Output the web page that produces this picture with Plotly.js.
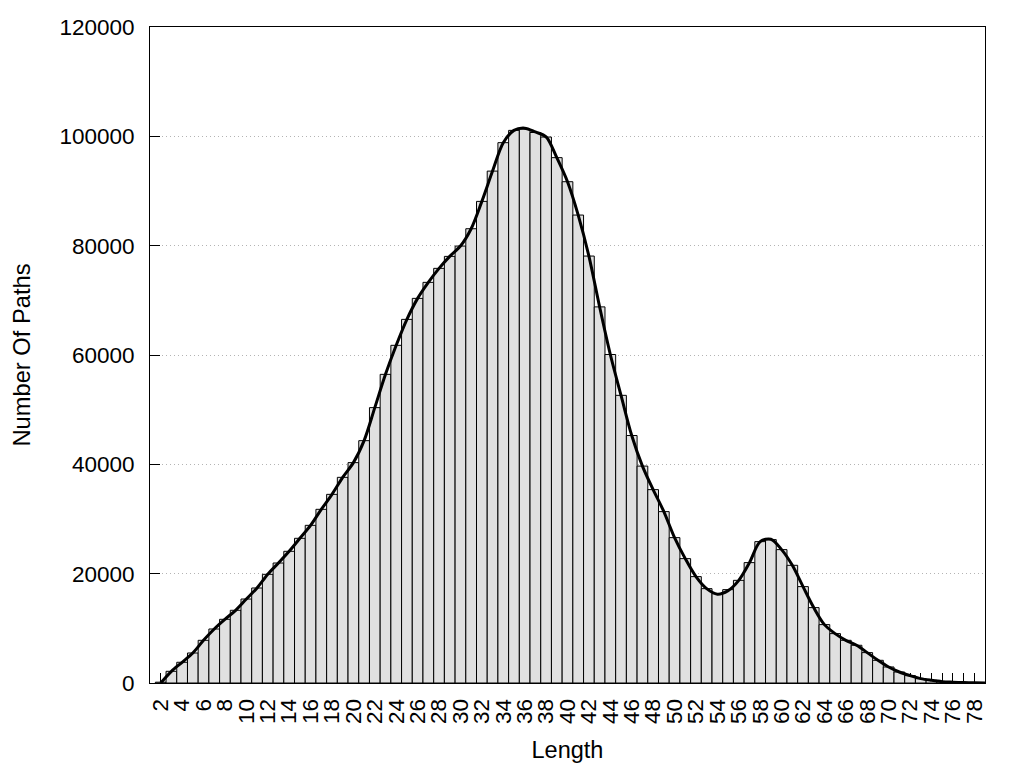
<!DOCTYPE html>
<html>
<head>
<meta charset="utf-8">
<script src="https://cdn.plot.ly/plotly-3.0.1.min.js"></script>
<style>
  html, body { margin: 0; padding: 0; background: #ffffff; }
  #chart { width: 1024px; height: 768px; }
</style>
</head>
<body>
<div id="chart"></div>
<script>
// Path lengths (x) and number of paths per length (bars)
const lengths = [2,3,4,5,6,7,8,9,10,11,12,13,14,15,16,17,18,19,20,21,22,23,24,25,26,27,28,29,30,
  31,32,33,34,35,36,37,38,39,40,41,42,43,44,45,46,47,48,49,50,51,52,53,54,55,56,57,58,59,60,
  61,62,63,64,65,66,67,68,69,70,71,72,73,74,75,76,77,78];
const pathCounts = [150,2140,3790,5490,7810,9880,11650,13300,15360,17380,19880,21950,24090,26470,28840,
  31770,34510,37620,40310,44330,50370,56460,61770,66520,70360,73290,75850,78040,79930,
  83100,88100,93640,98840,101090,101330,100700,99870,96100,91700,85600,78100,68800,60090,
  52620,45270,39680,35370,31350,26590,22750,19460,17260,16350,17080,18780,22020,25860,
  26230,24400,21530,17630,13790,10680,9035,7810,6900,5560,4150,2930,2010,1350,800,490,
  250,150,80,40];

// Smoothed curve drawn over the histogram
const curveLengths = [2,3,4,5,6,7,8,9,10,11,12,13,14,15,16,17,18,19,20,21,22,23,24,25,26,27,28,29,30,
  31,32,33,34,35,36,37,38,39,40,41,42,43,44,45,46,47,48,49,50,51,52,53,54,55,56,57,58,59,60,
  61,62,63,64,65,66,67,68,69,70,71,72,73,74,75,76,77,78,79];
const curveCounts = [0,2140,3790,5490,7810,9880,11650,13300,15360,17380,19880,21950,24090,26470,28840,
  31770,34510,37620,40310,44330,50370,56460,61770,66520,70360,73290,75850,78040,79930,
  83100,88100,93640,98840,101090,101500,100800,99900,96100,91700,85600,78100,68800,60090,
  52620,45270,39680,35370,31350,26590,22750,19460,17260,16250,16900,18780,22020,25860,
  26300,24400,21530,17630,13790,10680,9035,7810,6900,5560,4150,2930,2010,1350,800,490,
  250,150,80,40,0];

const xTitle = 'Length';
const yTitle = 'Number Of Paths';

const FONT = '"Liberation Sans", Arial, Helvetica, sans-serif';

const bars = {
  type: 'bar',
  x: lengths,
  y: pathCounts,
  width: 1,
  marker: { color: '#e0e0e0', line: { color: '#000000', width: 1 } },
  hoverinfo: 'x+y',
  showlegend: false
};

const curve = {
  type: 'scatter',
  mode: 'lines',
  x: curveLengths,
  y: curveCounts,
  line: { color: '#000000', width: 3, shape: 'spline', smoothing: 0.9 },
  hoverinfo: 'skip',
  showlegend: false,
  cliponaxis: true
};

const layout = {
  width: 1024,
  height: 768,
  margin: { l: 150, r: 39, t: 27, b: 85, pad: 0 },
  paper_bgcolor: '#ffffff',
  plot_bgcolor: '#ffffff',
  font: { family: FONT, size: 22.5, color: '#000000' },
  bargap: 0,
  showlegend: false,
  xaxis: {
    range: [1, 79],
    tickmode: 'linear',
    tick0: 0,
    dtick: 2,
    tickangle: -90,
    ticks: 'inside',
    ticklen: 10,
    tickwidth: 1,
    tickcolor: '#000000',
    minor: { dtick: 1, tick0: 0, ticks: 'inside', ticklen: 10, tickwidth: 1, tickcolor: '#000000', showgrid: false },
    showgrid: false,
    zeroline: false,
    showline: true,
    mirror: true,
    linecolor: '#000000',
    linewidth: 1,
    layer: 'below traces',
    ticklabelstandoff: 6,
    tickfont: { family: FONT, size: 22.5, color: '#000000' },
    title: { text: xTitle, font: { family: FONT, size: 23.5, color: '#000000' }, standoff: 18 },
    automargin: false
  },
  yaxis: {
    range: [0, 120000],
    tickmode: 'linear',
    tick0: 0,
    dtick: 20000,
    tickformat: 'd',
    ticks: 'inside',
    ticklen: 10,
    tickwidth: 1,
    tickcolor: '#000000',
    showgrid: true,
    gridcolor: '#b4b4b4',
    griddash: '1px,3px',
    gridwidth: 1,
    zeroline: false,
    showline: true,
    mirror: true,
    linecolor: '#000000',
    linewidth: 1,
    ticklabelstandoff: 10,
    tickfont: { family: FONT, size: 22.5, color: '#000000' },
    title: { text: yTitle, font: { family: FONT, size: 23.7, color: '#000000' }, standoff: 22 },
    automargin: false
  }
};

Plotly.newPlot('chart', [bars, curve], layout, { displayModeBar: false, staticPlot: true });
</script>
</body>
</html>
